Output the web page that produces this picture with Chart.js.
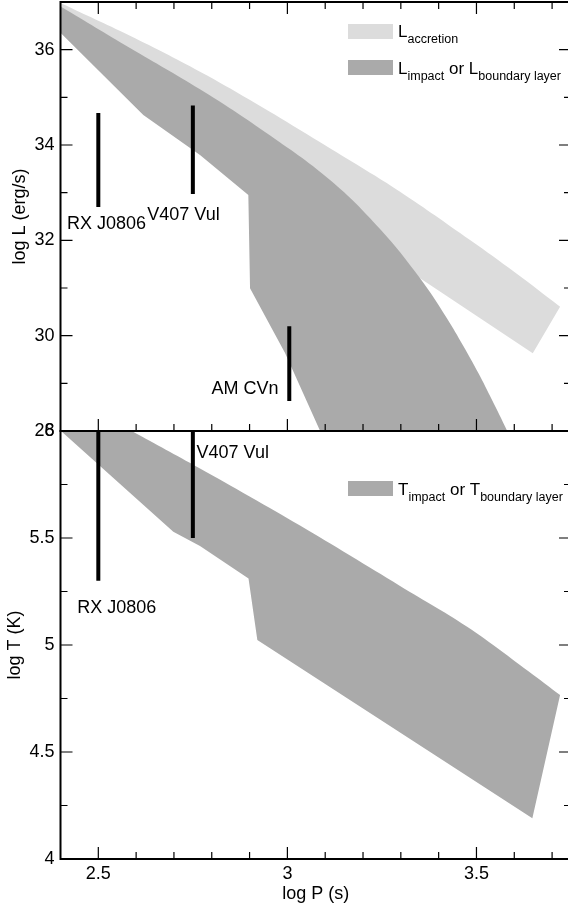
<!DOCTYPE html>
<html><head><meta charset="utf-8">
<script src="https://cdn.jsdelivr.net/npm/chart.js@4.4.1/dist/chart.umd.min.js"></script>
<style>
html,body{margin:0;padding:0;background:#fff;overflow:hidden;width:568px;height:905px;position:relative;}
#c1{position:absolute;left:0;top:0;}
#c2{position:absolute;left:0;top:420px;}
</style></head><body>
<canvas id="c1" width="573" height="446"></canvas>
<canvas id="c2" width="573" height="485"></canvas>
<script>
// ---------- data (log P in s) ----------
// L_accretion band
const accUpperP = [2.38, 2.4013, 2.5838, 2.7689, 2.9012, 3.0334, 3.1657, 3.2979, 3.4830, 3.6021, 3.7211];
const accUpperL = [37.057, 36.973, 36.29, 35.538, 34.944, 34.315, 33.675, 33.020, 32.007, 31.325, 30.608];
const accLowerP = [2.38, 2.77, 3.0, 3.2, 3.3508, 3.6489, 3.7211];
const accLowerL = [36.6, 34.6, 33.0, 32.0, 31.204, 29.630, 30.608];
// L_impact / L_boundary layer band
const impUpperP = [2.38, 2.4013, 2.5838, 2.7689, 2.9408, 3.1128, 3.2450, 3.3508, 3.4214, 3.4653, 3.5050, 3.5412, 3.5801, 3.61];
const impUpperL = [37.0, 36.901, 36.035, 35.169, 34.273, 33.266, 32.238, 31.204, 30.371, 29.783, 29.215, 28.650, 28.021, 27.5];
const impLowerP = [2.38, 2.4013, 2.619, 2.7689, 2.8967, 2.9012, 2.9938, 3.0863, 3.12, 3.61];
const impLowerL = [36.51, 36.343, 34.629, 33.790, 32.951, 30.993, 29.636, 28.006, 27.41, 27.45];
// T_impact / T_boundary layer band
const tUpperP = [2.38, 2.5883, 2.7689, 2.9012, 3.0334, 3.1657, 3.2979, 3.4743, 3.6505, 3.7211];
const tUpperT = [6.201, 6.0, 5.825, 5.693, 5.558, 5.418, 5.276, 5.086, 4.860, 4.766];
const tLowerP = [2.38, 2.4013, 2.6983, 2.7689, 2.8972, 2.9205, 3.6478, 3.7211];
const tLowerT = [6.034, 6.0, 5.529, 5.463, 5.311, 5.023, 4.190, 4.766];
// objects
const objNames = ['RX J0806', 'V407 Vul', 'AM CVn'];
const objLogP  = [2.5, 2.75, 3.005];
const objLmin  = [32.70, 32.97, 28.63];
const objLmax  = [34.67, 34.83, 30.20];
const objTmin  = [5.30, 5.50];
const objTmax  = [6.00, 6.00];
// ticks
const xTicks = [2.5,2.6,2.7,2.8,2.9,3.0,3.1,3.2,3.3,3.4,3.5,3.6,3.7];
const xMajor = [2.5, 3, 3.5];
const xMajorLabels = ['2.5', '3', '3.5'];
const yLTicks = [28,29,30,31,32,33,34,35,36];
const yLMajor = [28,30,32,34,36];
const yLMajorLabels = ['28','30','32','34','36'];
const yTTicks = [4,4.25,4.5,4.75,5,5.25,5.5,5.75,6];
const yTMajor = [4,4.5,5,5.5,6];
const yTMajorLabels = ['4','4.5','5','5.5','6'];

// ---------- styling ----------
const LIGHT = '#dcdcdc', DARK = '#aaaaaa';
const FAM = '"Liberation Sans", Arial, Helvetica, sans-serif';
Chart.defaults.font.family = FAM;
Chart.defaults.font.size = 18;
Chart.defaults.color = '#000';

const pts = (xs, ys) => xs.map((x, i) => ({x: x, y: ys[i]}));
const ds = (data, o) => Object.assign({data: data, showLine: true, pointRadius: 0, pointHoverRadius: 0,
  borderWidth: 1, borderColor: 'rgba(0,0,0,0)', fill: false, tension: 0, capBezierPoints: false}, o);
const idx = (v, arr) => arr.findIndex(m => Math.abs(m - v) < 1e-9);
const labelFor = (arr, labs) => (v) => { const i = idx(v, arr); return i >= 0 ? labs[i] : ''; };
const setTicks = (arr) => (scale) => { scale.ticks = arr.map(v => ({value: v})); };
const zeroPad = (w, h) => (scale) => {
  if (w !== null) scale.width = w;
  if (h !== null) scale.height = h;
  scale.paddingTop = 0; scale.paddingBottom = 0; scale.paddingLeft = 0; scale.paddingRight = 0;
};

function decor(cfg) {
  return {
    id: 'decor',
    afterDatasetsDraw(chart) {
      const ctx = chart.ctx, a = chart.chartArea, xs = chart.scales.x, ys = chart.scales.y;
      ctx.save();
      ctx.strokeStyle = '#000';
      ctx.lineWidth = 1.2;
      ctx.beginPath();
      cfg.xTicks.forEach(v => {
        const p = xs.getPixelForValue(v);
        const L = idx(v, cfg.xMajor) >= 0 ? 12 : 7;
        if (cfg.xTop) { ctx.moveTo(p, a.top); ctx.lineTo(p, a.top + L); }
        if (cfg.xBottom) { ctx.moveTo(p, a.bottom); ctx.lineTo(p, a.bottom - L); }
      });
      cfg.yTicks.forEach(v => {
        const p = ys.getPixelForValue(v);
        const L = idx(v, cfg.yMajor) >= 0 ? 12 : 7;
        ctx.moveTo(a.left, p); ctx.lineTo(a.left + L, p);
        ctx.moveTo(a.right, p); ctx.lineTo(a.right - L, p);
      });
      ctx.stroke();
      ctx.lineWidth = 2;
      ctx.strokeRect(a.left, a.top, a.right - a.left, a.bottom - a.top);
      ctx.fillStyle = '#000';
      ctx.font = '18px ' + FAM;
      ctx.textAlign = 'center';
      ctx.textBaseline = 'alphabetic';
      if (cfg.xLabels) {
        cfg.xMajor.forEach((v, i) => ctx.fillText(cfg.xLabels[i], xs.getPixelForValue(v), a.bottom + 20));
      }
      cfg.labels.forEach(l => ctx.fillText(l.text, xs.getPixelForValue(l.x), ys.getPixelForValue(l.y)));
      ctx.textAlign = 'left';
      cfg.legend.forEach(row => {
        ctx.fillStyle = row.color;
        ctx.fillRect(row.box[0], row.box[1], row.box[2], row.box[3]);
        ctx.fillStyle = '#000';
        let x = row.textX;
        row.parts.forEach(p => {
          ctx.font = (p[1] ? '12.5px ' : '17px ') + FAM;
          ctx.fillText(p[0], x, row.baseline + (p[1] ? 5.5 : 0));
          x += ctx.measureText(p[0]).width;
        });
      });
      ctx.restore();
    }
  };
}

const marker = (x, y0, y1) => ds(pts([x, x], [y0, y1]), {borderColor: '#000', borderWidth: 4, borderCapStyle: 'butt', order: 0});

// ---------- top chart: log L ----------
new Chart(document.getElementById('c1'), {
  type: 'scatter',
  data: { datasets: [
    marker(objLogP[0], objLmin[0], objLmax[0]),
    marker(objLogP[1], objLmin[1], objLmax[1]),
    marker(objLogP[2], objLmin[2], objLmax[2]),
    ds(pts(impUpperP, impUpperL), {fill: 4, backgroundColor: DARK, order: 2, tension: 0.4}),
    ds(pts(impLowerP, impLowerL), {order: 3}),
    ds(pts(accUpperP, accUpperL), {fill: 6, backgroundColor: LIGHT, order: 4, tension: 0.4}),
    ds(pts(accLowerP, accLowerL), {order: 5})
  ]},
  options: {
    responsive: false, animation: false, devicePixelRatio: 1, events: [],
    layout: { padding: {top: 2, right: 2, bottom: 15, left: 0} },
    plugins: { legend: {display: false}, tooltip: {enabled: false} },
    scales: {
      x: { type: 'linear', min: 2.4, max: 3.75, display: false,
           afterBuildTicks: setTicks(xTicks), afterFit: zeroPad(null, 0) },
      y: { type: 'linear', min: 28, max: 37,
           grid: {display: false, drawTicks: false}, border: {display: false},
           ticks: {padding: 6, autoSkip: false, callback: labelFor(yLMajor, yLMajorLabels)},
           afterBuildTicks: setTicks(yLTicks), afterFit: zeroPad(60.5, null),
           title: {display: true, text: 'log L (erg/s)', font: {size: 18}, padding: {top: 9, bottom: 0}} }
    }
  },
  plugins: [decor({
    xTicks: xTicks, xMajor: xMajor, yTicks: yLTicks, yMajor: yLMajor, xTop: true, xBottom: true,
    labels: [
      {text: objNames[0], x: 2.5217, y: 32.234},
      {text: objNames[1], x: 2.7253, y: 32.429},
      {text: objNames[2], x: 2.888, y: 28.768}
    ],
    legend: [
      {color: LIGHT, box: [348, 24, 45, 15], textX: 398, baseline: 37.3, parts: [['L', 0], ['accretion', 1]]},
      {color: DARK, box: [348, 60, 45, 15], textX: 398, baseline: 74, parts: [['L', 0], ['impact', 1], [' or L', 0], ['boundary layer', 1]]}
    ]
  })]
});

// ---------- bottom chart: log T ----------
new Chart(document.getElementById('c2'), {
  type: 'scatter',
  data: { datasets: [
    marker(objLogP[0], objTmin[0], objTmax[0]),
    marker(objLogP[1], objTmin[1], objTmax[1]),
    ds(pts(tUpperP, tUpperT), {fill: 3, backgroundColor: DARK, order: 2, tension: 0.4}),
    ds(pts(tLowerP, tLowerT), {order: 3})
  ]},
  options: {
    responsive: false, animation: false, devicePixelRatio: 1, events: [],
    layout: { padding: {top: 11, right: 2, bottom: 0, left: 0} },
    plugins: { legend: {display: false}, tooltip: {enabled: false} },
    scales: {
      x: { type: 'linear', min: 2.4, max: 3.75,
           grid: {display: false, drawTicks: false}, border: {display: false},
           ticks: {display: false},
           afterBuildTicks: setTicks(xTicks), afterFit: zeroPad(null, 46),
           title: {display: true, text: 'log P (s)', font: {size: 18}, padding: {top: 0, bottom: 0}} },
      y: { type: 'linear', min: 4, max: 6,
           grid: {display: false, drawTicks: false}, border: {display: false},
           ticks: {padding: 6, autoSkip: false, callback: labelFor(yTMajor, yTMajorLabels)},
           afterBuildTicks: setTicks(yTTicks), afterFit: zeroPad(60.5, null),
           title: {display: true, text: 'log T (K)', font: {size: 18}, padding: {top: 4.5, bottom: 0}} }
    }
  },
  plugins: [decor({
    xTicks: xTicks, xMajor: xMajor, xLabels: xMajorLabels, yTicks: yTTicks, yMajor: yTMajor, xTop: false, xBottom: true,
    labels: [
      {text: objNames[0], x: 2.5486, y: 5.148},
      {text: objNames[1], x: 2.8554, y: 5.876}
    ],
    legend: [
      {color: DARK, box: [348, 61, 45, 15], textX: 398, baseline: 75, parts: [['T', 0], ['impact', 1], [' or T', 0], ['boundary layer', 1]]}
    ]
  })]
});
</script>
</body></html>
